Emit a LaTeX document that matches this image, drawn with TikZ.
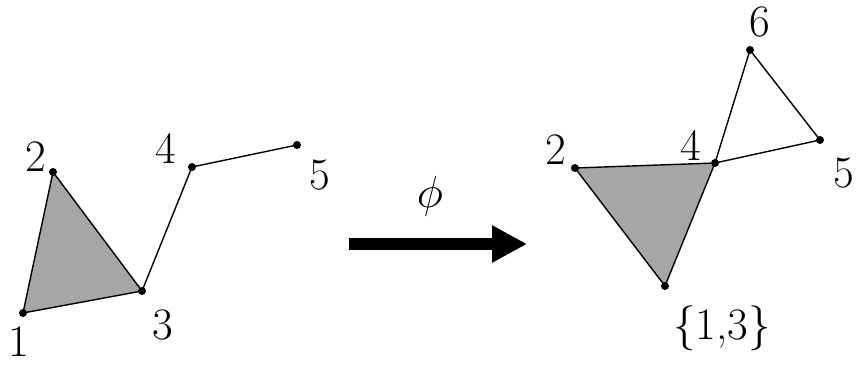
\RequirePackage{fix-cm}
\documentclass[tikz,border=0pt]{standalone}
\usepackage{fontspec}
\usepackage{xcolor}
\usetikzlibrary{arrows.meta,positioning}
\definecolor{facegray}{RGB}{166,166,166}

\begin{document}
\begin{tikzpicture}[x=1pt,y=-1pt,
  dot/.style={circle,fill=black,inner sep=0pt,minimum size=8pt},
  edge/.style={line width=1.4pt},
  face/.style={fill=facegray,draw=black,line width=1.4pt,line join=round},
  lbl/.style={font=\fontsize{45}{54}\selectfont,inner sep=0pt},
  mapto/.style={line width=12pt,-{Triangle[length=35pt,width=35pt]}}
]
\useasboundingbox (0,0) rectangle (856,366);
% before the map
\coordinate (p1) at (23,313);
\coordinate (p2) at (53,172);
\coordinate (p3) at (142,291);
\coordinate (p4) at (192,167);
\coordinate (p5) at (297,145);
\filldraw[face] (p1) -- (p2) -- (p3) -- cycle;
\draw[edge] (p3) -- (p4) -- (p5);
\foreach \v in {p1,p2,p3,p4,p5} \node[dot] at (\v) {};
\node[lbl] (l1) at (19,342) {1};
\node[lbl] (l2) at (36,157) {2};
\node[lbl] (l3) at (163,325) {3};
\node[lbl] (l4) at (166,148) {4};
\node[lbl] (l5) at (320,175) {5};
% the map
\coordinate (from) at (349,244);
\coordinate (to) at (527,244);
\draw[mapto] (from) -- (to);
\node[lbl] (phi) at (430,196) {$\phi$};
% after the map
\coordinate (q13) at (665,286);
\coordinate (q2) at (575,168);
\coordinate (q4) at (715,163);
\coordinate (q5) at (820,140);
\coordinate (q6) at (750,50);
\filldraw[face] (q13) -- (q2) -- (q4) -- cycle;
\draw[edge,line join=round] (q4) -- (q6) -- (q5) -- cycle;
\foreach \v in {q13,q2,q4,q5,q6} \node[dot] at (\v) {};
\node[lbl] (m2) at (556,150) {2};
\node[lbl] (m4) at (691,145) {4};
\node[lbl] (m6) at (760,22) {6};
\node[lbl] (m5) at (844,173) {5};
\node[lbl] (m13) at (722,328) {\{1,3\}};
\end{tikzpicture}
\end{document}
